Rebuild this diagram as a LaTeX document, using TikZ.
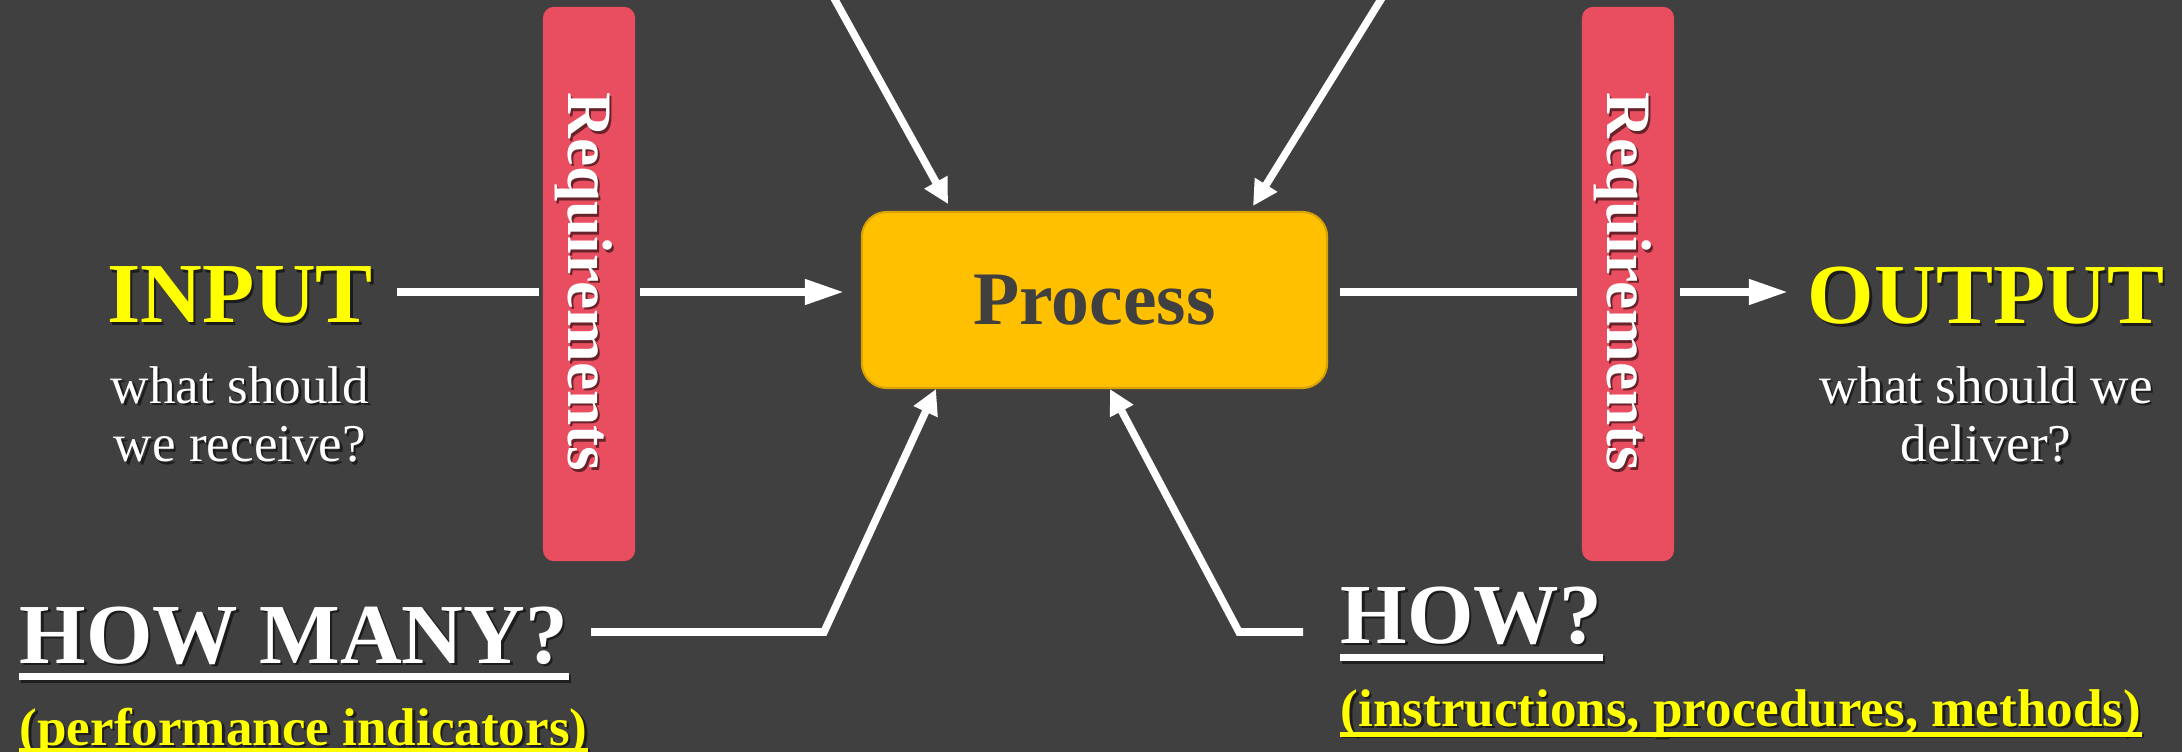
\documentclass[tikz,border=0pt]{standalone}
\usepackage{fontspec}
\setmainfont{Liberation Serif}
\usetikzlibrary{arrows.meta,calc}

\definecolor{bg}{HTML}{404040}
\definecolor{reqred}{HTML}{E84E5F}
\definecolor{procgold}{HTML}{FFC000}
\definecolor{procedge}{HTML}{D9A300}
\definecolor{hiyellow}{HTML}{FFFF00}

% a text node with a soft drop shadow: style, name, position, text
\newcommand\shadowlabel[4]{%
  \node[#1, text=black, opacity=0.55] at ($(#3)+(2.5,2.5)$) {#4};
  \node[#1] (#2) at (#3) {#4};
}

\begin{document}
\begin{tikzpicture}[x=0.01cm, y=-0.01cm,
  bigword/.style={inner sep=0pt, font=\fontsize{24.3}{29}\selectfont\bfseries, text=hiyellow},
  headword/.style={inner sep=0pt, font=\fontsize{24.3}{29}\selectfont\bfseries, text=white},
  subword/.style={inner sep=0pt, font=\fontsize{15.1}{18}\selectfont\bfseries, text=hiyellow},
  descword/.style={inner sep=0pt, font=\fontsize{15.1}{18}\selectfont, text=white},
  reqbar/.style={fill=reqred, rounded corners=0.11cm, minimum width=0.92cm,
                 minimum height=5.54cm, inner sep=0pt},
  reqword/.style={inner sep=0pt, font=\fontsize{18}{20}\selectfont\bfseries,
                  text=white, rotate=-90},
  procbox/.style={fill=procgold, draw=procedge, line width=0.6pt,
                  rounded corners=0.25cm, minimum width=4.65cm, minimum height=1.76cm,
                  font=\fontsize{21.5}{25}\selectfont\bfseries, text=bg},
  conn/.style={draw=white, line width=2.15pt},
  harrow/.style={conn, -{Triangle[length=11.1pt, width=6.8pt]}},
  darrow/.style={conn, -{Triangle[length=7.1pt, width=7.1pt]}},
  wline/.style={draw=white, line width=2pt},
  yline/.style={draw=hiyellow, line width=1.2pt},
  lineshadow/.style={draw=black, opacity=0.5}
]
\fill[bg] (0,0) rectangle (2182,752);
\useasboundingbox (0,0) rectangle (2182,752);
\clip (0,0) rectangle (2182,752);

% requirement gates
\node[reqbar] (reqL) at (589,284) {};
\node[reqbar] (reqR) at (1628,284) {};
\shadowlabel{reqword, anchor=base}{reqLtext}{568,282}{Requirements}
\shadowlabel{reqword, anchor=base}{reqRtext}{1607,282}{Requirements}

% central process
\node[procbox] (proc) at (1094.5,300) {Process};

% input and output labels
\shadowlabel{bigword, anchor=base}{inp}{240,323}{INPUT}
\shadowlabel{descword, anchor=base}{inpA}{240,403}{what should}
\shadowlabel{descword, anchor=base}{inpB}{240,462}{we receive?}
\shadowlabel{bigword, anchor=base}{outp}{1986,324}{OUTPUT}
\shadowlabel{descword, anchor=base}{outpA}{1986,403}{what should we}
\shadowlabel{descword, anchor=base}{outpB}{1986,462}{deliver?}

% bottom questions
\shadowlabel{headword, anchor=base west}{howmany}{19,663}{HOW MANY?}
\shadowlabel{subword, anchor=base west}{perf}{19,745}{(performance indicators)}
\shadowlabel{headword, anchor=base west}{how}{1340,643}{HOW?}
\shadowlabel{subword, anchor=base west}{instr}{1340,726}{(instructions, procedures, methods)}

% underlines
\draw[lineshadow, line width=2pt] ($(howmany.base west)+(2,16)$) -- ($(howmany.base east)+(2,16)$);
\draw[wline] ($(howmany.base west)+(0,13.5)$) -- ($(howmany.base east)+(0,13.5)$);
\draw[lineshadow, line width=1.2pt] ($(perf.base west)+(2,6.5)$) -- ($(perf.base east)+(2,6.5)$);
\draw[yline] ($(perf.base west)+(0,5)$) -- ($(perf.base east)+(0,5)$);
\draw[lineshadow, line width=2pt] ($(how.base west)+(2,17)$) -- ($(how.base east)+(2,17)$);
\draw[wline] ($(how.base west)+(0,14.5)$) -- ($(how.base east)+(0,14.5)$);
\draw[lineshadow, line width=1.2pt] ($(instr.base west)+(2,10)$) -- ($(instr.base east)+(2,10)$);
\draw[yline] ($(instr.base west)+(0,8.5)$) -- ($(instr.base east)+(0,8.5)$);

% connector end points
\coordinate (inStart) at (397,292);
\coordinate (inGate)  at (539,292);
\coordinate (gateL)   at (640,292);
\coordinate (procIn)  at (844,292);
\coordinate (procOut) at (1340,292);
\coordinate (gateR)   at (1577,292);
\coordinate (outGate) at (1680,292);
\coordinate (outTip)  at (1788,292);
\coordinate (topA)    at (824,-20);
\coordinate (topATip) at (948,204);
\coordinate (topB)    at (1393,-20);
\coordinate (topBTip) at (1253,206);
\coordinate (hmStart) at (591,632);
\coordinate (hmBend)  at (824,632);
\coordinate (hmTip)   at (936,389);
\coordinate (hwStart) at (1303,632);
\coordinate (hwBend)  at (1239,632);
\coordinate (hwTip)   at (1110,389);

% flow connectors
\draw[conn] (inStart) -- (inGate);
\draw[harrow] (gateL) -- (procIn);
\draw[conn] (procOut) -- (gateR);
\draw[harrow] (outGate) -- (outTip);
\draw[darrow] (topA) -- (topATip);
\draw[darrow] (topB) -- (topBTip);
\draw[darrow] (hmStart) -- (hmBend) -- (hmTip);
\draw[darrow] (hwStart) -- (hwBend) -- (hwTip);
\end{tikzpicture}
\end{document}
